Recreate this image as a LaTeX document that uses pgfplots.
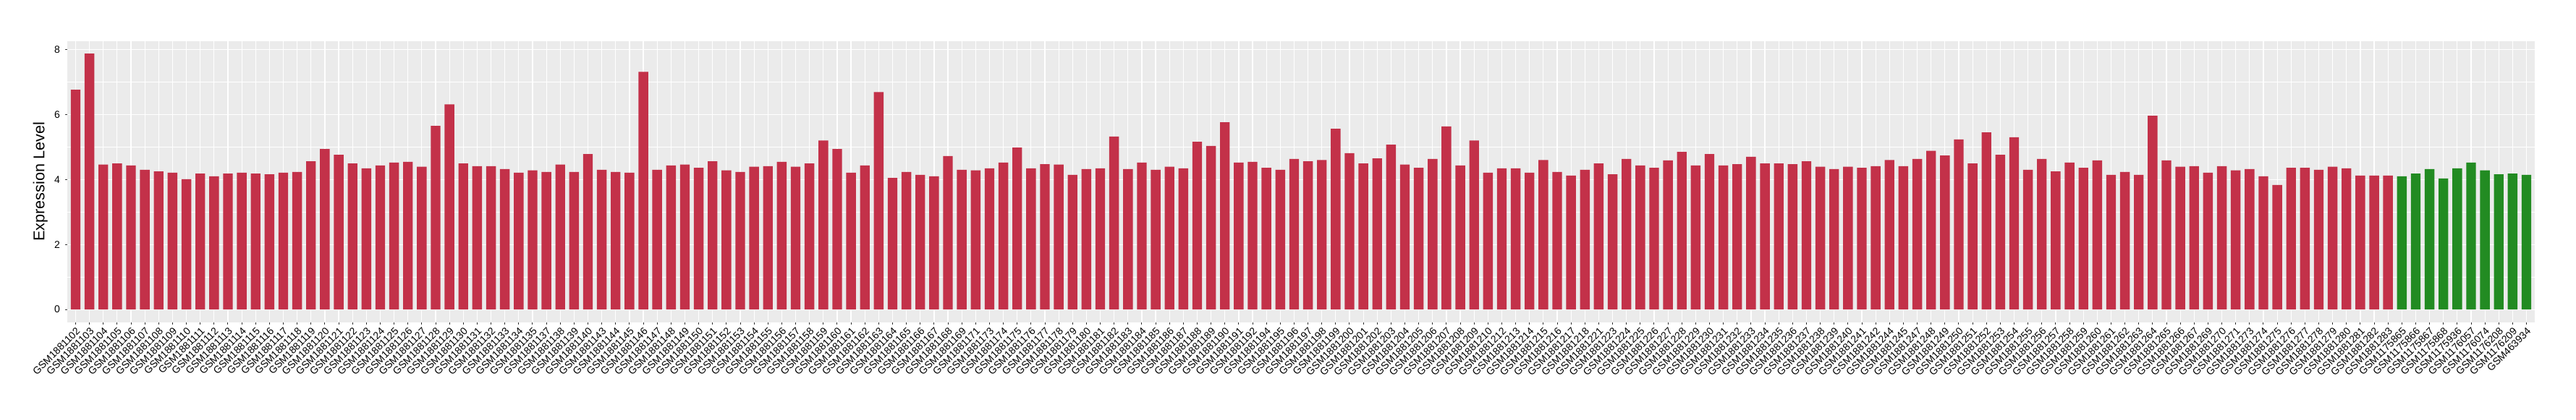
\documentclass[border=0pt]{standalone}
\usepackage{fontspec}
\setmainfont{Liberation Sans}
\usepackage{pgfplots}
\pgfplotsset{compat=1.18}
\definecolor{barred}{RGB}{195,49,73}
\definecolor{bargreen}{RGB}{34,139,34}
\definecolor{panelgray}{RGB}{235,235,235}
\definecolor{tickgray}{RGB}{51,51,51}

\begin{document}
\begin{tikzpicture}
% canvas of the reference (1px = 0.5pt), axis box at the origin
\useasboundingbox (-46.5pt,-67.15pt) rectangle (1733.5pt,222.85pt);
\begin{axis}[
  at={(0,0)}, anchor=south west,
  scale only axis, width=1705pt, height=194.5pt,
  ybar, bar width=0.7,
  xmin=-0.6, xmax=177.6, ymin=-0.39, ymax=8.26,
  axis line style={draw=none},
  axis background/.style={fill=panelgray},
  tick pos=left, tick align=outside,
  major tick length=1.5pt, minor tick length=0pt,
  tick style={tickgray, line width=0.5pt},
  xtick={0,...,177},
  xticklabels={GSM1881102,GSM1881103,GSM1881104,GSM1881105,GSM1881106,GSM1881107,GSM1881108,GSM1881109,GSM1881110,GSM1881111,
    GSM1881112,GSM1881113,GSM1881114,GSM1881115,GSM1881116,GSM1881117,GSM1881118,GSM1881119,GSM1881120,GSM1881121,
    GSM1881122,GSM1881123,GSM1881124,GSM1881125,GSM1881126,GSM1881127,GSM1881128,GSM1881129,GSM1881130,GSM1881131,
    GSM1881132,GSM1881133,GSM1881134,GSM1881135,GSM1881137,GSM1881138,GSM1881139,GSM1881140,GSM1881143,GSM1881144,
    GSM1881145,GSM1881146,GSM1881147,GSM1881148,GSM1881149,GSM1881150,GSM1881151,GSM1881152,GSM1881153,GSM1881154,
    GSM1881155,GSM1881156,GSM1881157,GSM1881158,GSM1881159,GSM1881160,GSM1881161,GSM1881162,GSM1881163,GSM1881164,
    GSM1881165,GSM1881166,GSM1881167,GSM1881168,GSM1881169,GSM1881171,GSM1881173,GSM1881174,GSM1881175,GSM1881176,
    GSM1881177,GSM1881178,GSM1881179,GSM1881180,GSM1881181,GSM1881182,GSM1881183,GSM1881184,GSM1881185,GSM1881186,
    GSM1881187,GSM1881188,GSM1881189,GSM1881190,GSM1881191,GSM1881192,GSM1881194,GSM1881195,GSM1881196,GSM1881197,
    GSM1881198,GSM1881199,GSM1881200,GSM1881201,GSM1881202,GSM1881203,GSM1881204,GSM1881205,GSM1881206,GSM1881207,
    GSM1881208,GSM1881209,GSM1881210,GSM1881212,GSM1881213,GSM1881214,GSM1881215,GSM1881216,GSM1881217,GSM1881218,
    GSM1881221,GSM1881223,GSM1881224,GSM1881225,GSM1881226,GSM1881227,GSM1881228,GSM1881229,GSM1881230,GSM1881231,
    GSM1881232,GSM1881233,GSM1881234,GSM1881235,GSM1881236,GSM1881237,GSM1881238,GSM1881239,GSM1881240,GSM1881241,
    GSM1881242,GSM1881244,GSM1881245,GSM1881247,GSM1881248,GSM1881249,GSM1881250,GSM1881251,GSM1881252,GSM1881253,
    GSM1881254,GSM1881255,GSM1881256,GSM1881257,GSM1881258,GSM1881259,GSM1881260,GSM1881261,GSM1881262,GSM1881263,
    GSM1881264,GSM1881265,GSM1881266,GSM1881267,GSM1881269,GSM1881270,GSM1881271,GSM1881273,GSM1881274,GSM1881275,
    GSM1881276,GSM1881277,GSM1881278,GSM1881279,GSM1881280,GSM1881281,GSM1881282,GSM1881283,
    GSM1175865,GSM1175866,GSM1175867,GSM1175868,GSM1175936,GSM1176057,GSM1176074,GSM1176208,GSM1176209,GSM463934},
  ytick={0,2,4,6,8}, minor ytick={1,3,5,7},
  grid=both,
  major grid style={white, line width=0.6pt},
  minor grid style={white, line width=0.35pt},
  xticklabel style={rotate=45, anchor=north east, font=\fontsize{7}{8}\selectfont, inner sep=1pt},
  yticklabel style={font=\fontsize{7}{8}\selectfont},
  /pgf/number format/assume math mode=true,
  ylabel={Expression Level},
  ylabel style={at={(axis description cs:-0.0059,0.5)}, anchor=south, font=\fontsize{10.8}{12}\selectfont},
]
% tumour samples
\addplot[fill=barred, draw=none, bar shift=0pt] coordinates {
(0,6.76) (1,7.87) (2,4.46) (3,4.49) (4,4.43) (5,4.30) (6,4.25) (7,4.21) (8,4.01) (9,4.18)
(10,4.10) (11,4.18) (12,4.21) (13,4.18) (14,4.16) (15,4.21) (16,4.23) (17,4.56) (18,4.94) (19,4.76)
(20,4.49) (21,4.34) (22,4.43) (23,4.52) (24,4.54) (25,4.39) (26,5.65) (27,6.31) (28,4.49) (29,4.41)
(30,4.41) (31,4.32) (32,4.21) (33,4.28) (34,4.23) (35,4.46) (36,4.23) (37,4.78) (38,4.30) (39,4.23)
(40,4.21) (41,7.31) (42,4.30) (43,4.43) (44,4.46) (45,4.36) (46,4.56) (47,4.28) (48,4.23) (49,4.39)
(50,4.41) (51,4.54) (52,4.39) (53,4.49) (54,5.20) (55,4.94) (56,4.21) (57,4.43) (58,6.69) (59,4.05)
(60,4.23) (61,4.14) (62,4.10) (63,4.72) (64,4.30) (65,4.28) (66,4.34) (67,4.52) (68,4.98) (69,4.34)
(70,4.47) (71,4.46) (72,4.14) (73,4.32) (74,4.34) (75,5.32) (76,4.32) (77,4.52) (78,4.30) (79,4.39)
(80,4.34) (81,5.16) (82,5.03) (83,5.76) (84,4.52) (85,4.54) (86,4.36) (87,4.30) (88,4.63) (89,4.56)
(90,4.60) (91,5.56) (92,4.81) (93,4.49) (94,4.65) (95,5.07) (96,4.46) (97,4.36) (98,4.63) (99,5.63)
(100,4.43) (101,5.20) (102,4.21) (103,4.34) (104,4.34) (105,4.21) (106,4.60) (107,4.23) (108,4.12) (109,4.30)
(110,4.49) (111,4.16) (112,4.63) (113,4.43) (114,4.36) (115,4.59) (116,4.85) (117,4.43) (118,4.78) (119,4.43)
(120,4.47) (121,4.70) (122,4.49) (123,4.49) (124,4.47) (125,4.56) (126,4.39) (127,4.32) (128,4.39) (129,4.36)
(130,4.41) (131,4.60) (132,4.41) (133,4.63) (134,4.88) (135,4.74) (136,5.23) (137,4.49) (138,5.45) (139,4.76)
(140,5.30) (141,4.30) (142,4.63) (143,4.25) (144,4.52) (145,4.36) (146,4.59) (147,4.14) (148,4.23) (149,4.14)
(150,5.96) (151,4.59) (152,4.39) (153,4.41) (154,4.21) (155,4.41) (156,4.28) (157,4.32) (158,4.10) (159,3.83)
(160,4.36) (161,4.36) (162,4.30) (163,4.39) (164,4.34) (165,4.12) (166,4.12) (167,4.12)
};
% normal samples
\addplot[fill=bargreen, draw=none, bar shift=0pt] coordinates {
(168,4.10) (169,4.18) (170,4.32) (171,4.03) (172,4.34) (173,4.52) (174,4.28) (175,4.16) (176,4.18) (177,4.14)
};
\end{axis}
\end{tikzpicture}
\end{document}
